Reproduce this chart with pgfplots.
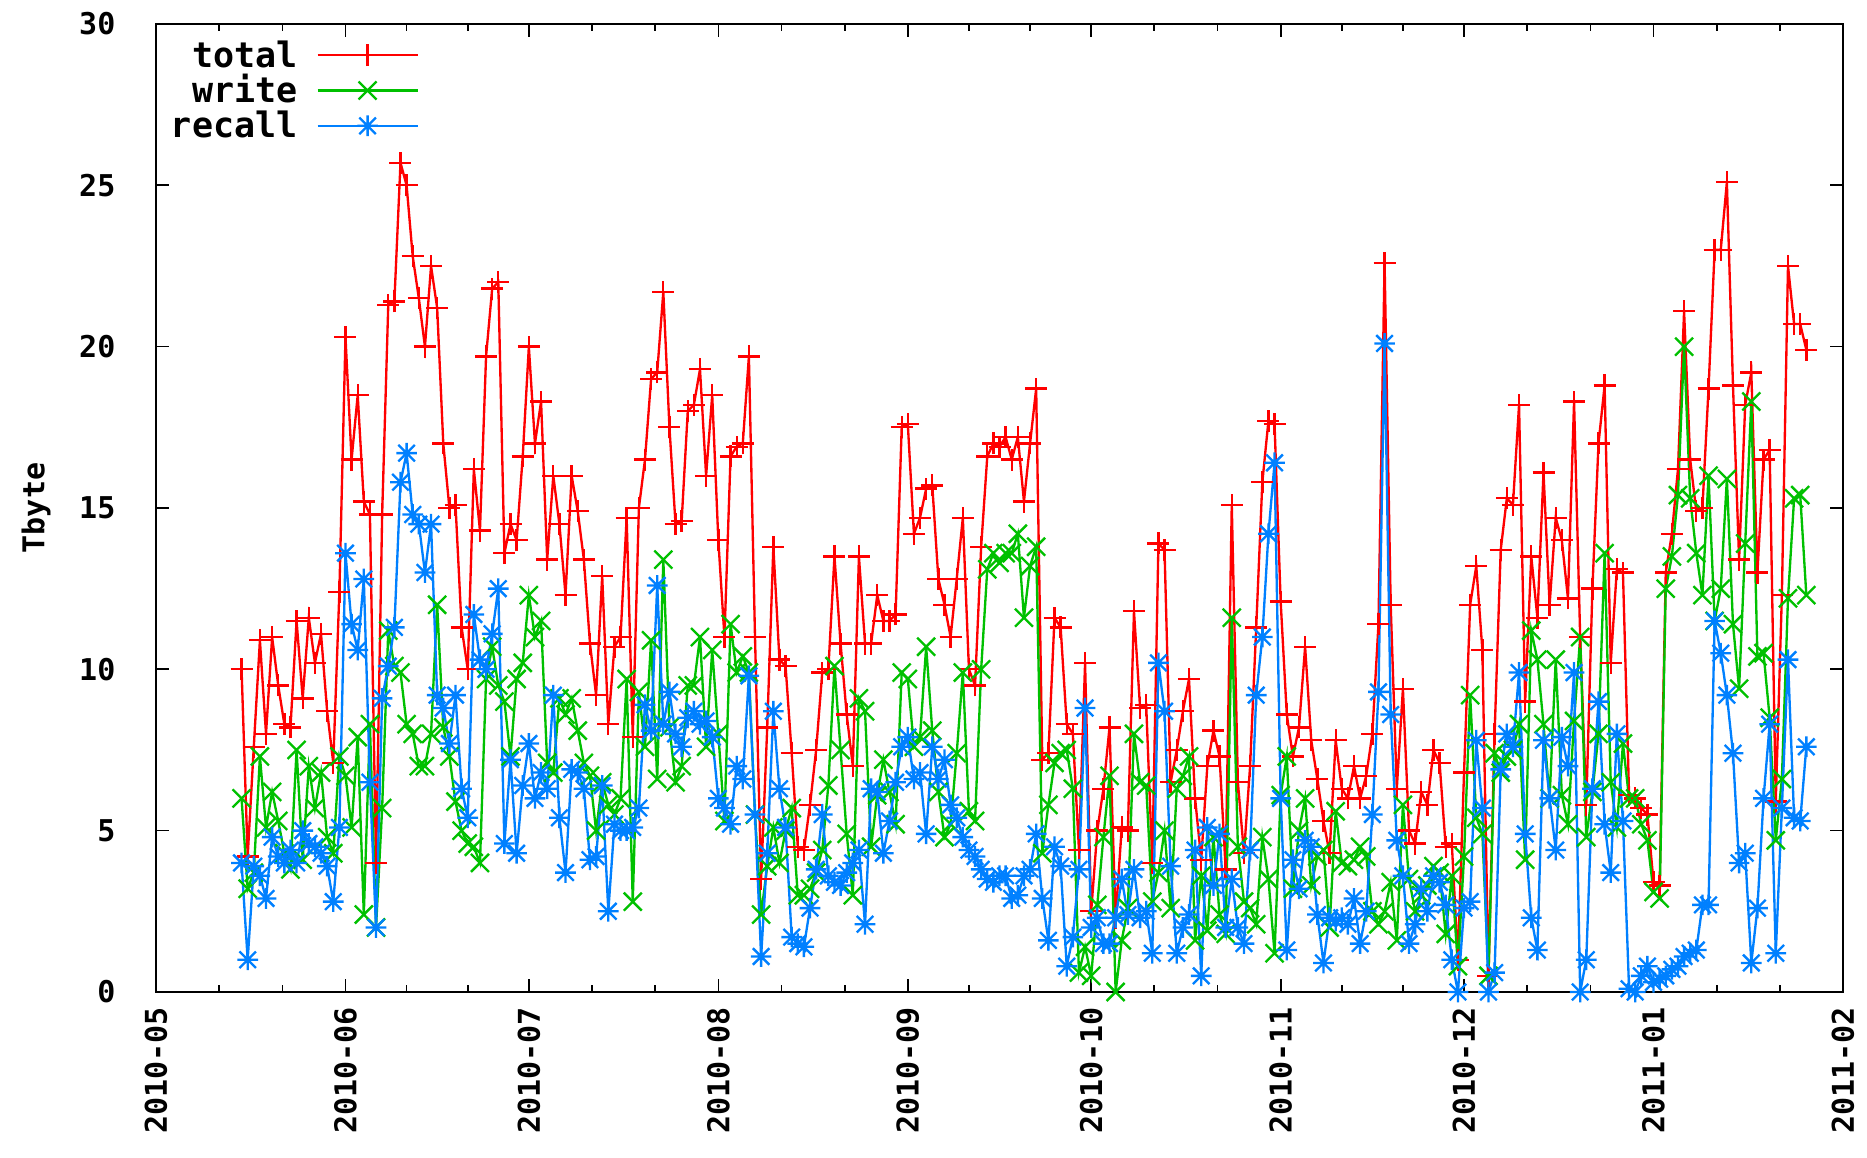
\documentclass[border=0pt]{standalone}
\usepackage{fontspec}
\setmainfont{DejaVu Sans Mono}
\usepackage{pgfplots}
\usepackage{pgfplotstable}
\pgfplotsset{compat=1.18}

\definecolor{gpred}{RGB}{255,0,0}
\definecolor{gpgreen}{RGB}{0,192,0}
\definecolor{gpblue}{RGB}{0,128,255}

% gnuplot-like point types: +, x and * (plus and cross together)
\pgfdeclareplotmark{gpplus}{%
  \pgfpathmoveto{\pgfqpoint{-\pgfplotmarksize}{0pt}}%
  \pgfpathlineto{\pgfqpoint{\pgfplotmarksize}{0pt}}%
  \pgfpathmoveto{\pgfqpoint{0pt}{-\pgfplotmarksize}}%
  \pgfpathlineto{\pgfqpoint{0pt}{\pgfplotmarksize}}%
  \pgfusepathqstroke}
\pgfdeclareplotmark{gpcross}{%
  \pgfpathmoveto{\pgfqpoint{-\pgfplotmarksize}{-\pgfplotmarksize}}%
  \pgfpathlineto{\pgfqpoint{\pgfplotmarksize}{\pgfplotmarksize}}%
  \pgfpathmoveto{\pgfqpoint{-\pgfplotmarksize}{\pgfplotmarksize}}%
  \pgfpathlineto{\pgfqpoint{\pgfplotmarksize}{-\pgfplotmarksize}}%
  \pgfusepathqstroke}
\pgfdeclareplotmark{gpstar}{%
  \pgfpathmoveto{\pgfqpoint{-\pgfplotmarksize}{0pt}}%
  \pgfpathlineto{\pgfqpoint{\pgfplotmarksize}{0pt}}%
  \pgfpathmoveto{\pgfqpoint{0pt}{-\pgfplotmarksize}}%
  \pgfpathlineto{\pgfqpoint{0pt}{\pgfplotmarksize}}%
  \pgfpathmoveto{\pgfqpoint{-.8\pgfplotmarksize}{-.8\pgfplotmarksize}}%
  \pgfpathlineto{\pgfqpoint{.8\pgfplotmarksize}{.8\pgfplotmarksize}}%
  \pgfpathmoveto{\pgfqpoint{-.8\pgfplotmarksize}{.8\pgfplotmarksize}}%
  \pgfpathlineto{\pgfqpoint{.8\pgfplotmarksize}{-.8\pgfplotmarksize}}%
  \pgfusepathqstroke}

% day = days since 2010-05-01; daily transfer volumes in Tbyte
\pgfplotstableread{
day total write recall
14 10.0 6.0 4.0
15 4.2 3.2 1.0
16 7.6 3.7 3.9
17 10.9 7.3 3.6
18 8.0 5.1 2.9
19 11.0 6.2 4.8
20 9.5 5.3 4.2
21 8.3 4.3 4.0
22 8.2 3.8 4.4
23 11.5 7.5 4.0
24 9.1 4.1 5.0
25 11.6 7.0 4.6
26 10.2 5.7 4.5
27 11.1 6.8 4.3
28 8.7 4.8 3.9
29 7.1 4.3 2.8
30 12.4 7.3 5.1
31 20.3 6.7 13.6
32 16.5 5.1 11.4
33 18.5 7.9 10.6
34 15.2 2.4 12.8
35 14.8 8.3 6.5
36 4.0 2.0 2.0
37 14.8 5.7 9.1
38 21.3 11.2 10.1
39 21.4 10.1 11.3
40 25.7 9.9 15.8
41 25.0 8.3 16.7
42 22.8 8.0 14.8
43 21.5 7.0 14.5
44 20.0 7.0 13.0
45 22.5 8.0 14.5
46 21.2 12.0 9.2
47 17.0 8.2 8.8
48 15.0 7.3 7.7
49 15.1 5.9 9.2
50 11.3 5.0 6.3
51 10.0 4.6 5.4
52 16.2 4.5 11.7
53 14.3 4.0 10.3
54 19.7 9.7 10.0
55 21.8 10.7 11.1
56 22.0 9.5 12.5
57 13.6 9.0 4.6
58 14.5 7.3 7.2
59 14.0 9.7 4.3
60 16.6 10.2 6.4
61 20.0 12.3 7.7
62 17.0 11.0 6.0
63 18.3 11.5 6.8
64 13.4 7.1 6.3
65 16.0 6.8 9.2
66 14.5 9.1 5.4
67 12.3 8.6 3.7
68 16.0 9.1 6.9
69 14.9 8.1 6.8
70 13.4 7.1 6.3
71 10.8 6.7 4.1
72 9.2 5.0 4.2
73 12.9 6.5 6.4
74 8.3 5.8 2.5
75 10.7 5.5 5.2
76 11.0 6.0 5.0
77 14.7 9.7 5.0
78 7.9 2.8 5.1
79 15.0 9.3 5.7
80 16.5 7.6 8.9
81 19.0 10.9 8.1
82 19.2 6.6 12.6
83 21.7 13.4 8.3
84 17.5 8.2 9.3
85 14.5 6.5 8.0
86 14.6 7.0 7.6
87 18.0 9.5 8.5
88 18.2 9.5 8.7
89 19.3 11.0 8.3
90 16.0 7.6 8.4
91 18.5 10.6 7.9
92 14.0 8.0 6.0
93 11.0 5.3 5.7
94 16.6 11.4 5.2
95 16.9 9.9 7.0
96 17.0 10.4 6.6
97 19.7 9.9 9.8
98 11.0 5.5 5.5
99 3.5 2.4 1.1
100 8.2 3.9 4.3
101 13.8 5.1 8.7
102 10.3 4.0 6.3
103 10.1 5.0 5.1
104 7.4 5.7 1.7
105 4.5 3.0 1.5
106 4.4 3.0 1.4
107 5.8 3.2 2.6
108 7.5 3.7 3.8
109 9.9 4.4 5.5
110 10.0 6.4 3.6
111 13.5 10.1 3.4
112 10.8 7.5 3.3
113 8.6 4.9 3.7
114 7.0 3.0 4.0
115 13.5 9.1 4.4
116 10.8 8.7 2.1
117 10.8 4.5 6.3
118 12.3 6.1 6.2
119 11.5 7.2 4.3
120 11.5 6.2 5.3
121 11.7 5.2 6.5
122 17.5 9.9 7.6
123 17.6 9.7 7.9
124 14.2 7.6 6.6
125 14.7 7.9 6.8
126 15.6 10.7 4.9
127 15.7 8.1 7.6
128 12.8 6.2 6.6
129 12.0 4.8 7.2
130 11.0 5.2 5.8
131 12.8 7.4 5.4
132 14.7 9.9 4.8
133 10.0 5.6 4.4
134 9.5 5.3 4.2
135 13.8 10.0 3.8
136 16.6 13.1 3.5
137 17.0 13.6 3.4
138 16.9 13.3 3.6
139 17.2 13.6 3.6
140 16.5 13.6 2.9
141 17.2 14.2 3.0
142 15.2 11.6 3.6
143 17.0 13.2 3.8
144 18.7 13.8 4.9
145 7.2 4.3 2.9
146 7.4 5.8 1.6
147 11.6 7.1 4.5
148 11.3 7.4 3.9
149 8.3 7.5 0.8
150 8.0 6.3 1.7
151 4.4 0.6 3.8
152 10.2 1.4 8.8
153 2.5 0.5 2.0
154 5.0 2.7 2.3
155 6.3 4.8 1.5
156 8.2 6.7 1.5
157 2.3 0.0 2.3
158 5.1 1.6 3.5
159 5.0 2.6 2.4
160 11.8 8.0 3.8
161 8.8 6.5 2.3
162 8.9 6.4 2.5
163 4.0 2.8 1.2
164 13.9 3.7 10.2
165 13.7 5.0 8.7
166 6.5 2.6 3.9
167 7.5 6.3 1.2
168 8.7 6.7 2.0
169 9.7 7.3 2.4
170 6.0 1.6 4.4
171 4.1 3.6 0.5
172 7.0 1.9 5.1
173 8.1 4.8 3.3
174 7.3 2.4 4.9
175 3.8 1.8 2.0
176 15.1 11.6 3.5
177 6.5 4.5 2.0
178 4.3 2.8 1.5
179 7.0 2.6 4.4
180 11.3 2.1 9.2
181 15.8 4.8 11.0
182 17.7 3.5 14.2
183 17.6 1.2 16.4
184 12.1 6.1 6.0
185 8.6 7.3 1.3
186 7.3 3.2 4.1
187 8.2 5.0 3.2
188 10.7 6.0 4.7
189 7.8 3.3 4.5
190 6.6 4.2 2.4
191 5.3 4.4 0.9
192 4.3 2.0 2.3
193 7.8 5.6 2.2
194 6.3 4.0 2.3
195 6.0 3.9 2.1
196 7.0 4.1 2.9
197 6.0 4.5 1.5
198 6.7 4.2 2.5
199 8.0 2.5 5.5
200 11.4 2.1 9.3
201 22.6 2.5 20.1
202 12.0 3.4 8.6
203 6.3 1.6 4.7
204 9.4 5.8 3.6
205 5.0 3.5 1.5
206 4.6 2.5 2.1
207 6.2 3.0 3.2
208 5.8 3.3 2.5
209 7.5 3.9 3.6
210 7.1 3.7 3.4
211 4.5 1.8 2.7
212 4.6 3.6 1.0
213 1.0 0.8 0.0
214 6.8 4.2 2.6
215 12.0 9.2 2.8
216 13.2 5.4 7.8
217 10.6 4.9 5.7
218 0.5 0.5 0.0
219 8.0 7.4 0.6
220 13.7 6.8 6.9
221 15.3 7.3 8.0
222 15.1 7.5 7.6
223 18.2 8.3 9.9
224 9.0 4.1 4.9
225 13.5 11.2 2.3
226 11.6 10.3 1.3
227 16.1 8.3 7.8
228 12.0 6.0 6.0
229 14.7 10.3 4.4
230 14.0 6.1 7.9
231 12.2 5.2 7.0
232 18.3 8.4 9.9
233 11.0 11.0 0.0
234 5.8 4.8 1.0
235 12.5 6.2 6.3
236 17.0 8.0 9.0
237 18.8 13.6 5.2
238 10.2 6.5 3.7
239 13.1 5.1 8.0
240 13.0 7.7 5.3
241 6.1 6.0 0.1
242 6.0 6.0 0.0
243 5.7 5.2 0.5
244 5.5 4.7 0.8
245 3.4 3.1 0.3
246 3.3 2.9 0.4
247 13.0 12.5 0.5
248 14.2 13.5 0.7
249 16.2 15.4 0.8
250 21.1 20.0 1.1
251 16.5 15.3 1.2
252 14.9 13.6 1.3
253 15.0 12.3 2.7
254 18.7 16.0 2.7
255 23.0 11.5 11.5
256 23.0 12.5 10.5
257 25.1 15.9 9.2
258 18.8 11.4 7.4
259 13.4 9.4 4.0
260 18.2 13.9 4.3
261 19.2 18.3 0.9
262 13.0 10.4 2.6
263 16.5 10.5 6.0
264 16.8 8.5 8.3
265 5.9 4.7 1.2
266 12.3 6.6 5.7
267 22.5 12.2 10.3
268 20.7 15.3 5.4
269 20.7 15.4 5.3
270 19.9 12.3 7.6
}\transfers

\begin{document}
\begin{tikzpicture}
\begin{axis}[
  at={(0,0)}, anchor=south west,
  width=506.1pt, height=290.4pt, scale only axis,
  xmin=0, xmax=276, ymin=0, ymax=30,
  axis line style={line width=0.5pt},
  xtick={0,31,61,92,123,153,184,214,245,276},
  xticklabels={2010-05,2010-06,2010-07,2010-08,2010-09,2010-10,2010-11,2010-12,2011-01,2011-02},
  minor xtick={10.33,20.67,41,51,71.33,81.67,102.33,112.67,133,143,163.33,173.67,194,204,224.33,234.67,255.33,265.67},
  ytick={0,5,...,30},
  tick align=inside,
  major tick length=4pt, minor tick length=2pt,
  every tick/.style={black, line width=0.5pt},
  /pgf/number format/assume math mode=true,
  tick label style={font=\fontsize{9}{10}\selectfont\bfseries},
  xticklabel style={rotate=90, anchor=east, inner xsep=4.3pt, inner ysep=0pt},
  yticklabel style={anchor=east, inner xsep=12pt},
  ylabel={Tbyte},
  every axis y label/.style={at={(rel axis cs:0,0.5)}, xshift=-36pt, rotate=90, anchor=center, font=\fontsize{9}{10}\selectfont\bfseries},
  legend plot pos=right,
  legend cell align=right,
  legend style={at={(rel axis cs:0,1)}, anchor=north west, xshift=1.3pt, yshift=-3pt,
    draw=none, fill=none, font=\fontsize{10.5}{11}\selectfont\bfseries,
    row sep=2.3pt, column sep=5.7pt,
    nodes={inner sep=0pt, text height=7.8pt, text depth=0.5pt}},
  legend image code/.code={\draw[mark repeat=2,mark phase=2] plot coordinates {(0pt,0pt) (15pt,0pt) (30pt,0pt)};},
]
\addplot[gpred, line width=0.7pt, mark=gpplus, mark size=3.3pt] table[x=day, y=total] {\transfers};
\addlegendentry{total}
\addplot[gpgreen, line width=0.7pt, mark=gpcross, mark size=2.7pt] table[x=day, y=write] {\transfers};
\addlegendentry{write}
\addplot[gpblue, line width=0.7pt, mark=gpstar, mark size=3.1pt] table[x=day, y=recall] {\transfers};
\addlegendentry{recall}
\end{axis}
\pgfresetboundingbox
\path (-46.8pt,-49.8pt) rectangle (513.3pt,297.6pt);
\end{tikzpicture}
\end{document}
